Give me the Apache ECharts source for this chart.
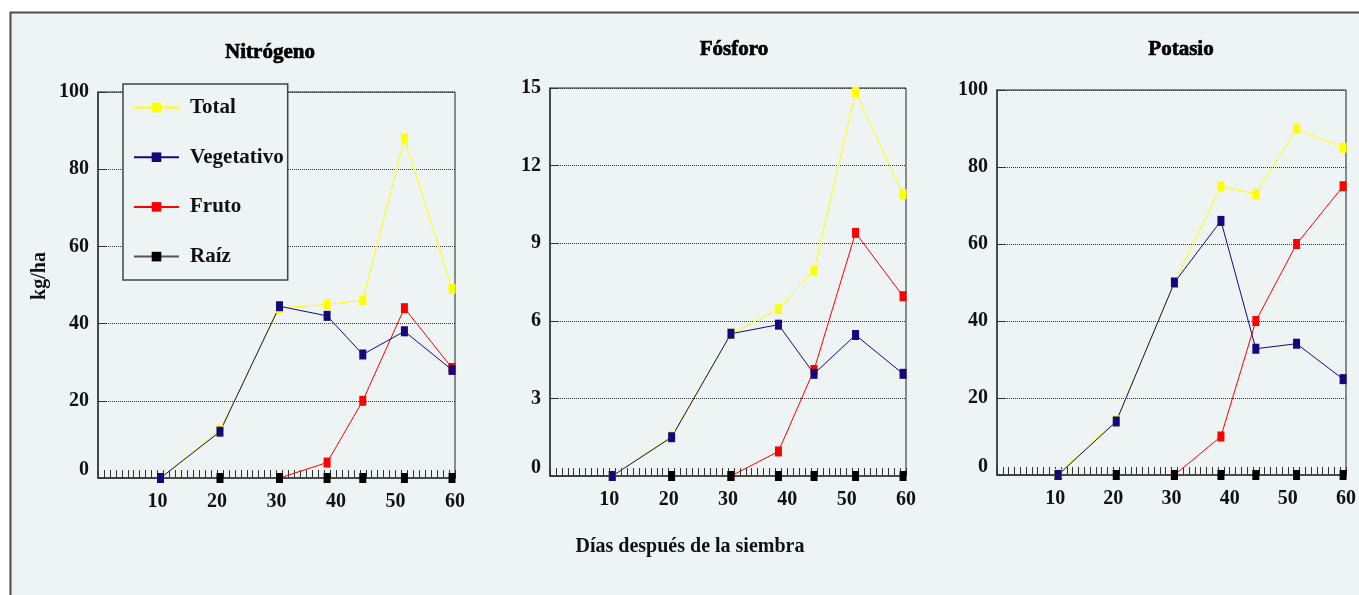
<!DOCTYPE html>
<html>
<head>
<meta charset="utf-8">
<script src="https://cdn.jsdelivr.net/npm/echarts@6/dist/echarts.min.js"></script>
<style>html,body{margin:0;padding:0;background:#fff;}#c{width:1359px;height:595px;}</style>
</head>
<body>
<div id="c"></div>
<script>
// ---- data ----
var days = [10.5, 20.5, 30.5, 38.5, 44.5, 51.5, 59.5];
var xTicks = [10, 20, 30, 40, 50, 60];
var seriesNames = ['Total', 'Vegetativo', 'Fruto', 'Raíz'];
var panelTitles = ['Nitrógeno', 'Fósforo', 'Potasio'];

var nTotal = [0, 12.5, 44, 45, 46, 88, 49];
var nVeg   = [0, 12, 44.5, 42, 32, 38, 28];
var nFruto = [null, null, 0, 4, 20, 44, 28.5];
var nRaiz  = [0, 0, 0, 0, 0, 0, 0];

var pTotal = [0, 1.55, 5.5, 6.45, 7.95, 14.85, 10.9];
var pVeg   = [0, 1.5, 5.5, 5.85, 3.95, 5.45, 3.95];
var pFruto = [null, null, 0, 0.95, 4.1, 9.4, 6.95];
var pRaiz  = [0, 0, 0, 0, 0, 0, 0];

var kTotal = [0.3, 14.2, 50, 75, 73, 90, 85];
var kVeg   = [0, 13.9, 50, 66, 32.8, 34.1, 24.9];
var kFruto = [null, null, 0, 10, 40, 60, 75];
var kRaiz  = [0, 0, 0, 0, 0, 0, 0];

var yMax = [100, 15, 100];
var yStep = [20, 3, 20];

// ---- styles ----
var FONT = '"Liberation Serif", "DejaVu Serif", serif';
var colors = {'Total': '#ffff00', 'Vegetativo': '#16087c', 'Fruto': '#ff0000', 'Raíz': '#000000'};
var lineColors = {'Total': '#ffff00', 'Vegetativo': '#16087c', 'Fruto': '#ff0000', 'Raíz': '#555555'};

var grids = [
  {left: 98, top: 92, width: 357, height: 386},
  {left: 550, top: 88, width: 356, height: 388},
  {left: 997, top: 90, width: 358, height: 385}
];

function pairs(vals) {
  return vals.map(function (v, i) { return [days[i], v]; });
}

var panels = [
  {Total: nTotal, Vegetativo: nVeg, Fruto: nFruto, 'Raíz': nRaiz},
  {Total: pTotal, Vegetativo: pVeg, Fruto: pFruto, 'Raíz': pRaiz},
  {Total: kTotal, Vegetativo: kVeg, Fruto: kFruto, 'Raíz': kRaiz}
];

var drawOrder = ['Fruto', 'Raíz', 'Total', 'Vegetativo'];
var series = [];
panels.forEach(function (p, gi) {
  drawOrder.forEach(function (name) {
    series.push({
      name: name, type: 'line', xAxisIndex: gi, yAxisIndex: gi,
      data: pairs(p[name]),
      symbol: 'rect', symbolSize: [7, 10],
      showSymbol: true, connectNulls: false,
      lineStyle: {color: lineColors[name], width: 1},
      itemStyle: {color: colors[name]},
      clip: false, animation: false
    });
  });
});

var xAxes = grids.map(function (g, i) {
  return {
    type: 'value', gridIndex: i, min: 0, max: 60, interval: 10,
    axisLine: {show: true, lineStyle: {color: '#333', width: 1.5}},
    axisTick: {show: true, inside: true, length: 8, lineStyle: {color: '#333'}},
    minorTick: {show: true, splitNumber: 10, length: 8, lineStyle: {color: '#333'}},
    splitLine: {show: false},
    axisLabel: {
      margin: 14, color: '#111', fontFamily: FONT, fontWeight: 'bold', fontSize: 20,
      formatter: function (v) { return xTicks.indexOf(v) >= 0 ? String(v) : ''; }
    }
  };
});

var yAxes = grids.map(function (g, i) {
  return {
    type: 'value', gridIndex: i, min: 0, max: yMax[i], interval: yStep[i],
    axisLine: {show: true, lineStyle: {color: '#333', width: 1.5}},
    axisTick: {show: true, inside: true, length: 8, lineStyle: {color: '#333'}},
    splitLine: {show: true, lineStyle: {type: 'dotted', color: '#333', width: 1}},
    axisLabel: {
      margin: 9, color: '#111', fontFamily: FONT, fontWeight: 'bold', fontSize: 20,
      formatter: function (v) { return v === 0 ? '{z|0}' : String(v); },
      rich: {z: {fontFamily: FONT, fontWeight: 'bold', fontSize: 20, color: '#111', padding: [0, 0, 16, 0]}}
    }
  };
});

var titleX = [270, 734, 1181];
var graphics = [{
  type: 'rect', z: -10, silent: true,
  shape: {x: 10.5, y: 12.5, width: 1400, height: 640},
  style: {fill: '#eef4f4', stroke: '#4a4a4a', lineWidth: 2}
}];
panelTitles.forEach(function (t, i) {
  graphics.push({
    type: 'text', x: titleX[i], y: i === 0 ? 53 : 50, silent: true,
    style: {text: t, font: '900 21px ' + FONT, fill: '#000', stroke: '#000', lineWidth: 0.7,
            align: 'center', verticalAlign: 'middle'}
  });
});
graphics.push({
  type: 'text', x: 690, y: 547, silent: true,
  style: {text: 'Días después de la siembra', font: 'bold 20px ' + FONT, fill: '#111',
          align: 'center', verticalAlign: 'middle'}
});
graphics.push({
  type: 'text', x: 40, y: 276, rotation: Math.PI / 2, silent: true,
  style: {text: 'kg/ha', font: 'bold 20px ' + FONT, fill: '#111',
          align: 'center', verticalAlign: 'middle'}
});

var chart = echarts.init(document.getElementById('c'), null, {renderer: 'canvas'});
chart.setOption({
  backgroundColor: '#ffffff',
  animation: false,
  graphic: graphics,
  grid: grids.map(function (g) {
    return {left: g.left, top: g.top, width: g.width, height: g.height,
            show: true, borderColor: '#222', borderWidth: 1, backgroundColor: 'transparent'};
  }),
  xAxis: xAxes,
  yAxis: yAxes,
  legend: {
    data: seriesNames, orient: 'vertical', left: 123, top: 84,
    padding: [13, 4, 13, 10], itemGap: 28.7, itemWidth: 45, itemHeight: 12,
    backgroundColor: '#eef4f4', borderColor: '#444', borderWidth: 1.5,
    textStyle: {fontFamily: FONT, fontWeight: 'bold', fontSize: 21, color: '#111', lineHeight: 21,
                padding: [0, 0, 0, 6]},
    selectedMode: false
  },
  series: series
});
</script>
</body>
</html>
